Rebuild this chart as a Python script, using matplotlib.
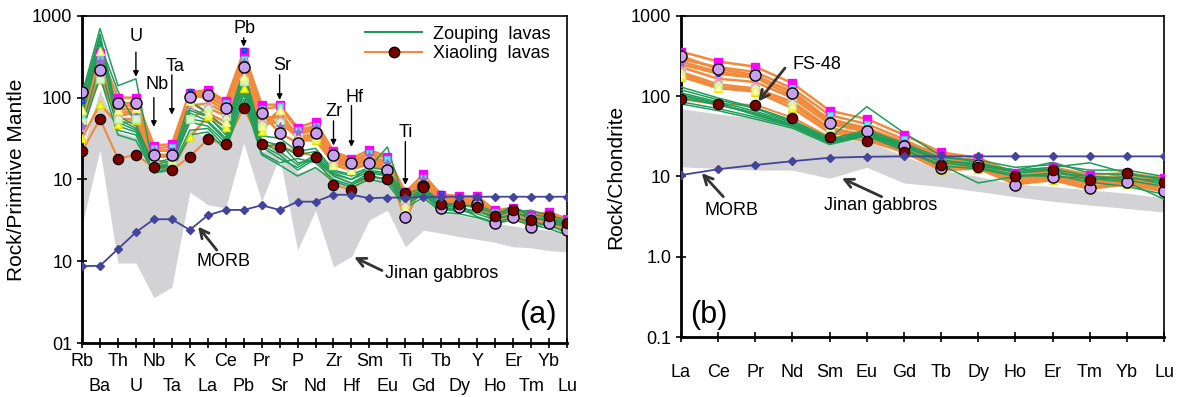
import numpy as np
import matplotlib
matplotlib.use('Agg')
import matplotlib.pyplot as plt
from matplotlib.lines import Line2D

plt.rcParams['font.family'] = ['Liberation Sans', 'DejaVu Sans']

# elements
pm_elements = ['Rb', 'Ba', 'Th', 'U', 'Nb', 'Ta', 'K', 'La', 'Ce', 'Pb', 'Pr', 'Sr', 'P', 'Nd',
               'Zr', 'Hf', 'Sm', 'Eu', 'Ti', 'Gd', 'Tb', 'Dy', 'Y', 'Ho', 'Er', 'Tm', 'Yb', 'Lu']
ree_elements = ['La', 'Ce', 'Pr', 'Nd', 'Sm', 'Eu', 'Gd', 'Tb', 'Dy', 'Ho', 'Er', 'Tm', 'Yb', 'Lu']

# MORB reference
morb_pm = [0.87, 0.88, 1.41, 2.26, 3.26, 3.26, 2.41, 3.65, 4.24, 4.24, 4.83, 4.24, 5.35, 5.35,
           6.5, 6.5, 5.9, 6.0, 6.0, 6.1, 6.15, 6.15, 6.15, 6.15, 6.15, 6.15, 6.15, 6.15]
morb_ree = [10.4, 12.3, 13.9, 15.5, 17.1, 17.6, 17.8, 17.8, 17.8, 17.8, 17.8, 17.8, 17.8, 17.8]

# Jinan gabbros field
jinan_pm_upper = [22, 125, 38, 33, 13, 14, 40, 32, 28, 72, 22, 24, 12, 14,
                  10.5, 8.5, 11, 10, 4.2, 6.1, 4.2, 3.7, 3.3, 2.9, 2.7, 2.5, 2.4, 2.2]
jinan_pm_lower = [2.8, 23, 0.95, 0.95, 0.36, 0.48, 7.0, 4.9, 4.5, 28, 5.4, 19, 1.37, 4.2,
                  0.86, 1.14, 3.2, 4.2, 1.5, 2.4, 2.2, 2.0, 1.85, 1.7, 1.5, 1.46, 1.35, 1.3]
jinan_ree_upper = [70, 60, 53, 46, 28, 28, 18, 12, 10, 8, 7.5, 6.8, 6.2, 5.4]
jinan_ree_lower = [13.2, 12.6, 12, 12, 9.5, 13, 8.3, 7.5, 6.5, 5.6, 4.9, 4.4, 4.0, 3.6]

# Zouping lavas
zouping_pm = [
    [110, 700, 140, 170, 13, 15, 75, 60, 35, 170, 28, 22, 15, 20, 12, 10, 14, 25, 5, 8, 5, 4.5, 4, 3.5, 4.2, 3.2, 3.4, 2.8],
    [80, 500, 55, 42, 14, 16, 65, 52, 32, 150, 26, 20, 13, 18, 11, 9, 12, 11, 5.5, 7, 4.6, 4.2, 3.8, 3.2, 3.8, 3.6, 3.0, 2.6],
    [45, 250, 40, 35, 12, 14, 40, 42, 25, 110, 21, 16, 18, 16, 10, 8.5, 11, 10, 5, 6.5, 4.2, 4.5, 3.5, 3.0, 3.4, 3.1, 2.7, 2.3],
    [95, 600, 60, 45, 15, 17, 70, 58, 38, 200, 30, 26, 20, 22, 12.5, 11, 13, 12, 6, 7.5, 5, 5, 4.5, 3.8, 4.5, 3.8, 3.4, 3.0],
    [60, 400, 45, 38, 13, 15, 50, 45, 28, 120, 24, 28, 16, 17, 11, 9, 11, 10, 4.8, 6.8, 4.4, 4.0, 4.2, 3.4, 3.6, 2.9, 2.8, 2.2],
    [100, 550, 50, 40, 16, 18, 90, 65, 42, 220, 34, 32, 22, 24, 13, 11.5, 14, 13, 6.5, 8, 5.2, 4.8, 4.8, 4.0, 4.0, 4.2, 3.6, 3.2],
    [38, 180, 35, 30, 12, 13, 35, 38, 23, 95, 20, 15, 11, 14, 9.5, 8, 10, 9, 4.5, 6, 4, 3.8, 3.4, 2.9, 3.2, 2.8, 2.5, 2.1],
    [70, 450, 120, 48, 14, 15, 55, 50, 30, 140, 25, 18, 14, 19, 11.5, 10, 12.5, 11.5, 5.2, 7.2, 4.8, 4.6, 4.0, 3.6, 4.8, 3.4, 3.2, 2.7],
]
zouping_ree = [
    [130, 95, 72, 50, 30, 74, 35, 18, 15, 11, 12, 9, 10, 8],
    [110, 85, 65, 47, 28, 36, 25, 16, 14, 12, 13, 14.8, 11, 9],
    [85, 70, 55, 42, 26, 33, 22, 14, 8.3, 10, 11, 10, 9, 7.5],
    [120, 90, 70, 48, 29, 38, 26, 17, 16, 13, 14, 12, 12, 10],
    [95, 78, 60, 44, 27, 34, 24, 15, 13, 10.5, 10, 9.5, 8.5, 5.2],
    [100, 80, 62, 45, 27.5, 35, 24.5, 15.5, 14.5, 12, 15, 11, 10.5, 9.5],
    [80, 66, 52, 40, 25, 32, 21, 13.5, 12.5, 10, 10.5, 8.5, 7.5, 6],
    [105, 82, 58, 43, 26.5, 34, 23, 16, 13.5, 11.5, 12.5, 10, 9.5, 8.8],
]

# Xiaoling lavas
xiaoling_pm = [
    [120, 350, 100, 100, 26, 27, 115, 125, 90, 360, 82, 82, 43, 51, 22, 18, 23, 19, 7, 11.5, 6.5, 6.3, 6.2, 4.2, 4.5, 3.7, 4.0, 3.3],
    [118, 219, 86, 86, 20, 20, 101, 108, 75, 240, 65, 37, 28, 37, 20, 16, 16, 13, 3.5, 8.3, 4.5, 4.6, 5.0, 2.9, 3.5, 2.6, 2.9, 2.4],
    [32, 84, 47, 53, 14, 13.5, 33, 59, 44, 130, 39, 72, 30, 30, 16, 14, 15, 13, 4, 8, 5, 5, 4.5, 3.3, 3.8, 3.0, 3.2, 2.6],
    [60, 300, 75, 70, 24, 25, 110, 115, 85, 300, 72, 78, 40, 45, 21, 17, 21, 18, 6.5, 10.5, 6, 5.8, 5.5, 4.0, 4.3, 3.5, 3.7, 3.1],
    [90, 260, 60, 65, 22, 23, 120, 95, 70, 380, 60, 55, 35, 42, 19, 15, 19, 15, 3.2, 9.5, 6.8, 5.5, 5.8, 3.2, 3.9, 3.4, 3.5, 2.9],
    [50, 170, 55, 55, 17, 16, 55, 75, 60, 160, 48, 50, 33, 36, 17, 14.5, 17, 14, 5, 9, 5.5, 5.2, 4.8, 3.5, 4.0, 3.2, 3.4, 2.8],
    [40, 200, 65, 68, 19, 19, 80, 85, 65, 200, 55, 60, 36, 40, 18, 15.5, 18, 15, 5.5, 9.2, 5.6, 5.4, 5.2, 3.7, 4.1, 3.3, 3.6, 3.0],
    [70, 370, 70, 75, 15, 15, 90, 65, 50, 180, 45, 70, 31, 33, 15, 13, 16, 12.5, 4.5, 8.5, 5.2, 5, 4.6, 3.1, 3.6, 2.9, 3.1, 2.5],
    [45, 280, 80, 80, 23, 22, 105, 100, 80, 270, 68, 45, 38, 44, 20, 16.5, 20, 16, 6, 10, 5.8, 5.6, 5.4, 3.8, 4.2, 3.6, 3.8, 3.2],
]
xiaoling_ree = [
    [359, 270, 233, 145, 66, 52, 33, 20, 17, 11, 13, 10.5, 11, 9.5],
    [317, 217, 184, 109, 47, 37, 24, 12.6, 14, 7.9, 9.8, 7.2, 8.6, 6.6],
    [175, 126, 114, 71, 35, 30, 20, 12, 12.5, 8, 9, 7, 8, 6.5],
    [290, 230, 200, 125, 58, 45, 29, 17, 16, 10, 12, 9.5, 10, 8.5],
    [250, 190, 170, 100, 52, 40, 27, 19, 15, 9, 11, 10, 9.5, 9],
    [200, 140, 125, 85, 40, 33, 23, 14, 13.5, 8.5, 10, 8, 9, 7.2],
    [230, 165, 150, 95, 45, 36, 25, 15, 14.5, 9.2, 10.5, 8.5, 9.2, 7.6],
    [190, 130, 120, 78, 38, 31, 21, 13, 13, 8.2, 9.4, 7.4, 8.4, 6.9],
    [270, 200, 175, 115, 50, 39, 26, 16, 15, 9.6, 11.5, 9, 9.8, 8],
]
fs48_pm = [22, 55, 18, 20, 14, 13, 19, 31, 27, 75, 27, 25, 22, 19,
           8.6, 7.5, 11, 10, 6.8, 8, 5, 5, 4.6, 3.6, 4.2, 3.2, 3.6, 2.9]
fs48_ree = [92, 79, 78, 54, 31, 28, 20, 14, 13, 10.2, 12.2, 9.0, 10.9, 8.5]

GREEN = '#1f9e5a'
ORANGE = '#f28a3c'
GREY = '#d3d3d5'
NAVY = '#43449a'
DARKRED = '#7a0000'

xl_styles = [
    dict(marker='s', mfc='#ff00ff', mec='#ff00ff', ms=6, z=6),
    dict(marker='o', mfc='#c8a0f0', mec='k', ms=8, z=7),
    dict(marker='^', mfc='#ffff33', mec='#e0e000', ms=6, z=6),
    dict(marker='s', mfc='#80e6f2', mec='#40c0e0', ms=5, z=6),
    dict(marker='s', mfc='#3060ff', mec='#2040d0', ms=3.5, z=6),
    dict(marker='s', mfc='#d4f7cc', mec='#b0e0a0', ms=6, z=6),
    dict(marker='x', mfc='none', mec='#ff88c8', ms=6, z=6),
    dict(marker='^', mfc='#ffffa8', mec='#f0f070', ms=6, z=6),
    dict(marker='*', mfc='#9a6ad0', mec='#9a6ad0', ms=6, z=6),
]


def draw_panel(ax, elems, upper, lower, zp, xl, fs, morb):
    x = np.arange(len(elems))
    ax.fill_between(x, lower, upper, color=GREY, lw=0, zorder=1)
    for row in xl:
        ax.plot(x, row, color=ORANGE, lw=1.8, zorder=3)
    ax.plot(x, fs, color=ORANGE, lw=1.5, zorder=3)
    for row in zp:
        ax.plot(x, row, color=GREEN, lw=1.1, zorder=3.5)
    for row, st in zip(xl, xl_styles):
        ax.plot(x, row, ls='none', marker=st['marker'], mfc=st['mfc'], mec=st['mec'],
                ms=st['ms'], mew=1.0, zorder=st['z'])
    ax.plot(x, fs, ls='none', marker='o', mfc=DARKRED, mec='k', ms=7.5, mew=0.8, zorder=8)
    ax.plot(x, morb, color=NAVY, lw=1.3, marker='D', ms=4, mfc=NAVY, mec=NAVY, zorder=9)

    ax.set_yscale('log')
    ax.set_ylim(0.1, 1000)
    ax.set_xlim(0, len(elems) - 1)
    ax.yaxis.set_minor_locator(matplotlib.ticker.NullLocator())
    ax.tick_params(axis='both', which='both', direction='inout', length=7, width=1.2,
                   labelsize=13, colors='k')
    for s in ['left', 'bottom']:
        ax.spines[s].set_linewidth(2)
    for s in ['top', 'right']:
        ax.spines[s].set_linewidth(1.2)
    return x


fig = plt.figure(figsize=(11.82, 3.97), dpi=100)
ax1 = fig.add_axes([0.0694, 0.136, 0.4103, 0.824])
ax2 = fig.add_axes([0.5761, 0.151, 0.4087, 0.809])

x1 = draw_panel(ax1, pm_elements, jinan_pm_upper, jinan_pm_lower, zouping_pm, xiaoling_pm, fs48_pm, morb_pm)
x2 = draw_panel(ax2, ree_elements, jinan_ree_upper, jinan_ree_lower, zouping_ree, xiaoling_ree, fs48_ree, morb_ree)

# left panel ticks: two staggered rows of element names
ax1.set_xticks(x1[::2])
ax1.set_xticklabels(pm_elements[::2])
ax1.set_xticks(x1[1::2], minor=True)
ax1.set_xticklabels(pm_elements[1::2], minor=True)
ax1.tick_params(axis='x', which='major', pad=4)
ax1.tick_params(axis='x', which='minor', pad=22)
ax1.set_yticks([0.1, 1, 10, 100, 1000])
ax1.set_yticklabels(['01', '10', '10', '100', '1000'])
ax1.set_ylabel('Rock/Primitive Mantle', fontsize=15, labelpad=4)

ax2.set_xticks(x2)
ax2.set_xticklabels(ree_elements)
ax2.tick_params(axis='x', pad=16)
ax2.set_yticks([0.1, 1, 10, 100, 1000])
ax2.set_yticklabels(['0.1', '1.0', '10', '100', '1000'])
ax2.set_ylabel('Rock/Chondrite', fontsize=15, labelpad=4)

# element callouts (a)
callouts = [('U', 3, 560, 360, 180), ('Nb', 4.15, 145, 100, 44), ('Ta', 5.2, 240, 190, 62),
            ('Pb', 9.05, 700, 540, 420), ('Sr', 11.15, 250, 190, 94),
            ('Zr', 14.0, 68, 52, 26), ('Hf', 15.15, 100, 80, 25), ('Ti', 18.0, 37, 29, 8.6)]
for lab, xi, ty, y0, y1 in callouts:
    ax1.text(xi, ty, lab, fontsize=13, ha='center', va='center', zorder=10)
    ax1.annotate('', xy=(round(xi), y1), xytext=(round(xi), y0),
                 arrowprops=dict(arrowstyle='-|>', color='k', lw=1.0, mutation_scale=8,
                                 shrinkA=0, shrinkB=0), zorder=10)

arrow_kw = dict(arrowstyle='->', color='#333333', lw=2.0, mutation_scale=16, shrinkA=0, shrinkB=0)
ax1.annotate('', xy=(6.46, 2.65), xytext=(7.5, 1.37), arrowprops=arrow_kw, zorder=10)
ax1.text(7.85, 1.0, 'MORB', fontsize=13, ha='center', va='center')
ax1.annotate('', xy=(15.15, 1.12), xytext=(16.7, 0.77), arrowprops=arrow_kw, zorder=10)
ax1.text(20.0, 0.71, 'Jinan gabbros', fontsize=13, ha='center', va='center')
ax1.text(25.4, 0.22, '(a)', fontsize=22, ha='center', va='center')

ax1.legend(handles=[Line2D([], [], color=GREEN, lw=1.5),
                    Line2D([], [], color=ORANGE, lw=1.5, marker='o', mfc=DARKRED, mec='k', ms=7.5)],
           labels=['Zouping  lavas', 'Xiaoling  lavas'], loc='upper right',
           bbox_to_anchor=(1.0, 1.02), frameon=False, fontsize=13, handlelength=3.2,
           labelspacing=0.15, handletextpad=0.6)

# panel (b)
ax2.annotate('', xy=(2.08, 86), xytext=(2.8, 224), arrowprops=arrow_kw, zorder=10)
ax2.text(3.65, 245, 'FS-48', fontsize=13, ha='center', va='center', zorder=10)
ax2.annotate('', xy=(0.56, 11.0), xytext=(1.14, 5.6), arrowprops=arrow_kw, zorder=10)
ax2.text(1.37, 3.8, 'MORB', fontsize=13, ha='center', va='center')
ax2.annotate('', xy=(4.33, 9.5), xytext=(5.4, 5.6), arrowprops=arrow_kw, zorder=10)
ax2.text(5.36, 4.3, 'Jinan gabbros', fontsize=13, ha='center', va='center')
ax2.text(0.74, 0.19, '(b)', fontsize=22, ha='center', va='center')

fig.savefig('out.png', dpi=100)
